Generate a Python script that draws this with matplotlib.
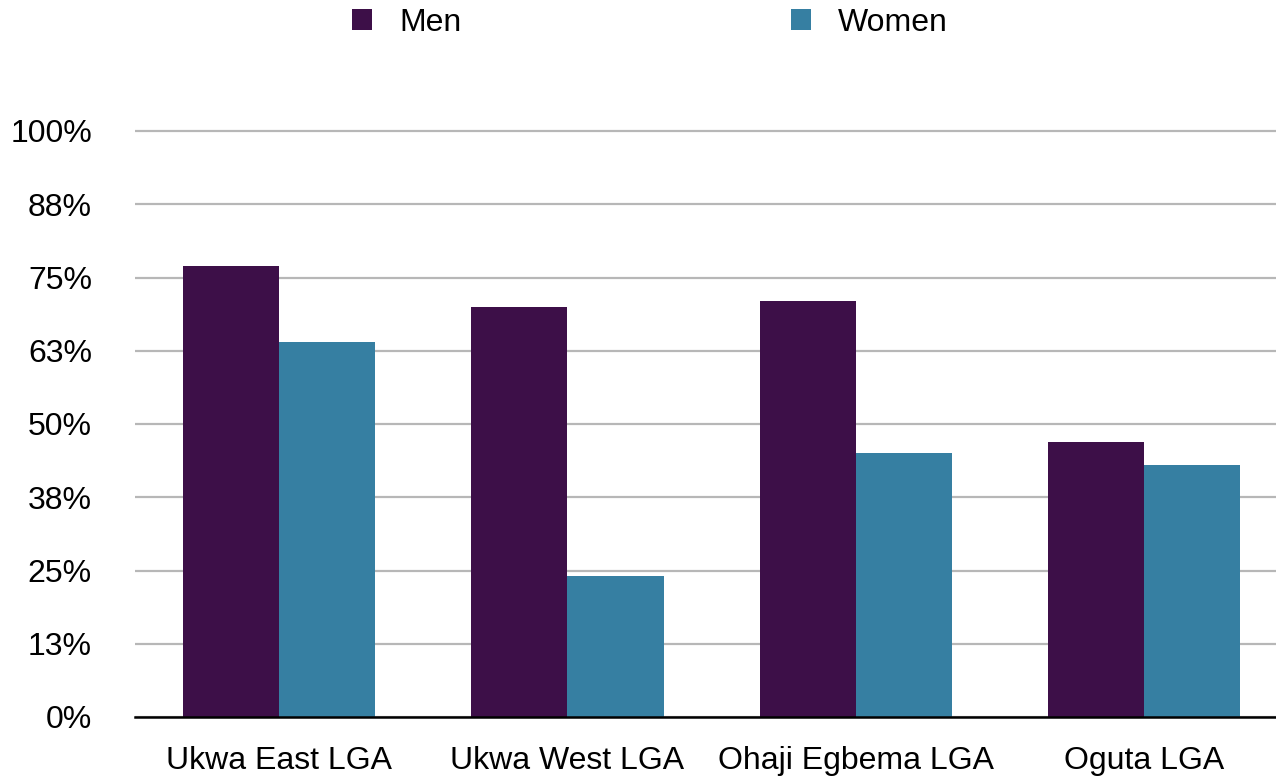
import matplotlib.pyplot as plt
import numpy as np

plt.rcParams['font.family'] = ['Liberation Sans', 'DejaVu Sans']

# data
categories = ['Ukwa East LGA', 'Ukwa West LGA', 'Ohaji Egbema LGA', 'Oguta LGA']
men = [77, 70, 71, 47]
women = [64, 24, 45, 43]
tick_vals = [0, 12.5, 25, 37.5, 50, 62.5, 75, 87.5, 100]
tick_labels = ['0%', '13%', '25%', '38%', '50%', '63%', '75%', '88%', '100%']

W, H = 1276, 778
# 586 px per 100 %, axes runs a bit above 100 % so the top gridline isn't clipped
top_px = 131 - 586 * 0.01
fig = plt.figure(figsize=(W / 100, H / 100), dpi=100)
ax = fig.add_axes([135 / W, 1 - 717 / H, 1 - 135 / W, (717 - top_px) / H])

x = np.arange(len(categories))
bw = 1 / 3
b1 = ax.bar(x - bw / 2, men, bw, color='#3d0f48', label='Men', zorder=3)
b2 = ax.bar(x + bw / 2, women, bw, color='#367fa2', label='Women', zorder=3)

ax.set_xlim(-0.5, 3.458)
ax.set_ylim(0, 101)
ax.set_yticks(tick_vals)
ax.set_yticklabels(tick_labels)
ax.set_xticks(x)
ax.set_xticklabels(categories)
ax.tick_params(axis='both', length=0, labelsize=23, colors='black')
ax.tick_params(axis='y', pad=31)
ax.tick_params(axis='x', pad=21)
ax.yaxis.grid(True, color='#b7b7b7', linewidth=1.6, zorder=0)
ax.set_axisbelow(True)
for s in ['top', 'right', 'left']:
    ax.spines[s].set_visible(False)
ax.spines['bottom'].set_color('black')
ax.spines['bottom'].set_linewidth(1.8)
ax.spines['bottom'].set_zorder(4)

fig.legend(handles=[b1, b2], loc='center left', bbox_to_anchor=(352 / W, 1 - 23 / H),
           ncol=2, frameon=False, fontsize=23, handlelength=0.63, handleheight=0.63,
           handletextpad=0.85, columnspacing=10.3, borderpad=0, borderaxespad=0)

fig.savefig('out.png', dpi=100)
